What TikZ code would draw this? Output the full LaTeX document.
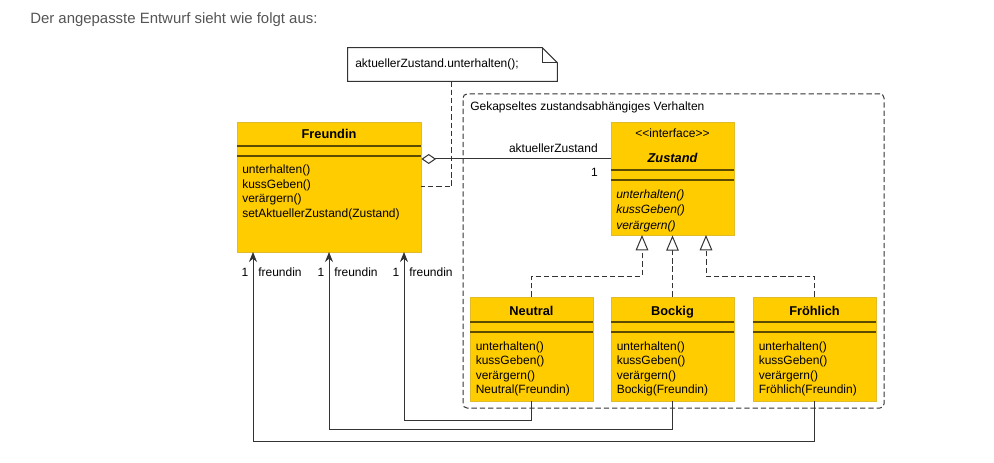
\documentclass[tikz,border=0pt]{standalone}
\usepackage{fontspec}
\setmainfont{Liberation Sans}
\usetikzlibrary{arrows.meta,fit,calc}
\definecolor{umlyellow}{HTML}{FFCC00}
\definecolor{umlborder}{HTML}{E0BC2A}
\definecolor{umlsep}{HTML}{5C4B00}
\definecolor{linegray}{HTML}{333333}
\definecolor{titlegray}{HTML}{555555}
\tikzset{
  cls/.style={fill=umlyellow, draw=umlborder, line width=0.6pt, inner sep=0pt},
  sepline/.style={draw=umlsep, line width=1.1pt},
  txt/.style={font=\fontsize{9}{10}\selectfont, inner sep=0pt, anchor=base west, text=black},
  ctxt/.style={font=\fontsize{9}{10}\selectfont, inner sep=0pt, anchor=base, text=black},
  ttl/.style={font=\fontsize{9.6}{11}\selectfont\bfseries, inner sep=0pt, anchor=base, text=black},
  conn/.style={draw=linegray, line width=0.75pt},
  dashl/.style={draw=linegray, line width=0.75pt, dash pattern=on 4pt off 2.2pt},
  realize/.style={dashl, -{Triangle[open, length=11.5pt, width=9.5pt, fill=white]}},
  nav/.style={conn, -{Stealth[length=7.5pt, width=6pt]}},
}
\begin{document}
\begin{tikzpicture}[x=0.75pt, y=-0.75pt]
\useasboundingbox (0,0) rectangle (994,463);
\fill[white] (0,0) rectangle (994,463);

% heading
\node[font=\fontsize{11.2}{13}\selectfont, text=titlegray, inner sep=0pt, anchor=base west] (heading) at (30,23.5) {Der angepasste Entwurf sieht wie folgt aus:};

% group box
\node[draw=linegray, line width=0.75pt, dash pattern=on 4pt off 2.2pt, rounded corners=3pt, fit={(463,94) (884,408)}, inner sep=0pt] (group) {};
\node[txt] (grouplbl) at (470,111) {Gekapseltes zustandsabhängiges Verhalten};

% note
\node[fit={(348,48) (557,81)}, inner sep=0pt] (note) {};
\draw[draw=linegray, line width=0.75pt, fill=white]
  (note.north west) -- ($(note.north east)+(-15,0)$) -- ($(note.north east)+(0,15)$) -- (note.south east) -- (note.south west) -- cycle;
\draw[draw=linegray, line width=0.75pt] ($(note.north east)+(-15,0)$) -- ($(note.north east)+(-15,15)$) -- ($(note.north east)+(0,15)$);
\node[txt] (notetxt) at (355,68) {aktuellerZustand.unterhalten();};

% Freundin
\node[cls, fit={(237,122) (421,252)}] (freundin) {};
\node[ttl] (freundinT) at (329,138.5) {Freundin};
\draw[sepline] (237,146) -- (421,146);
\draw[sepline] (237,156) -- (421,156);
\node[txt] (f1) at (242,174) {unterhalten()};
\node[txt] (f2) at (242,188.3) {kussGeben()};
\node[txt] (f3) at (242,203) {verärgern()};
\node[txt] (f4) at (242,217.3) {setAktuellerZustand(Zustand)};

% Zustand
\node[cls, fit={(611,122) (734,235)}] (zustand) {};
\node[ctxt] (zI) at (672.5,138) {<\kern0pt<interface>\kern0pt>};
\node[ttl, font=\fontsize{9.6}{11}\selectfont\bfseries\itshape] (zT) at (672.5,162.5) {Zustand};
\draw[sepline] (611,170) -- (734,170);
\draw[sepline] (611,180) -- (734,180);
\node[txt, font=\fontsize{9}{10}\selectfont\itshape] (z1) at (616,198.3) {unterhalten()};
\node[txt, font=\fontsize{9}{10}\selectfont\itshape] (z2) at (616,213.5) {kussGeben()};
\node[txt, font=\fontsize{9}{10}\selectfont\itshape] (z3) at (616,229) {verärgern()};

% state classes
\foreach \nm/\x/\lbl in {neutral/470/Neutral, bockig/611/Bockig, froehlich/753/Fröhlich}{
  \node[cls, fit={(\x,297) (\x+123,401)}] (\nm) {};
  \node[ttl] (\nm T) at (\x+61.5,315) {\lbl};
  \draw[sepline] (\x,322) -- (\x+123,322);
  \draw[sepline] (\x,332) -- (\x+123,332);
  \node[txt] (\nm 1) at (\x+5.5,350) {unterhalten()};
  \node[txt] (\nm 2) at (\x+5.5,364.3) {kussGeben()};
  \node[txt] (\nm 3) at (\x+5.5,379) {verärgern()};
  \node[txt] (\nm 4) at (\x+5.5,393.5) {\lbl(Freundin)};
}

% aggregation
\coordinate (ay) at (0,159);
\draw[conn, {Diamond[open, length=11pt, width=7.5pt, fill=white]}-] (freundin.east |- ay) -- (zustand.west |- ay);
\node[ctxt, anchor=base east] (rolez) at (598,152.5) {aktuellerZustand};
\node[ctxt, anchor=base east] (multz) at (598,176) {1};

% note anchor line
\coordinate (ny) at (0,187);
\draw[dashl] ($(note.south west)+(104,0)$) |- (freundin.east |- ny);

% realizations
\draw[realize] (neutral.north) |- (642,276) -- (642,235);
\draw[realize] (bockig.north) -- (bockig.north |- zustand.south);
\draw[realize] (froehlich.north) |- (706,276) -- (706,235);

% navigations back to Freundin
\draw[nav] (neutral.south) |- (404,420.5) -- (404,252);
\draw[nav] (bockig.south) |- (329,429) -- (329,252);
\draw[nav] (froehlich.south) |- (253,441) -- (253,252);

\foreach \ax/\k in {253/a, 329/b, 404/c}{
  \node[ctxt] (m\k) at (\ax-8,276.5) {1};
  \node[txt] (r\k) at (\ax+5,276.5) {freundin};
}
\end{tikzpicture}
\end{document}
